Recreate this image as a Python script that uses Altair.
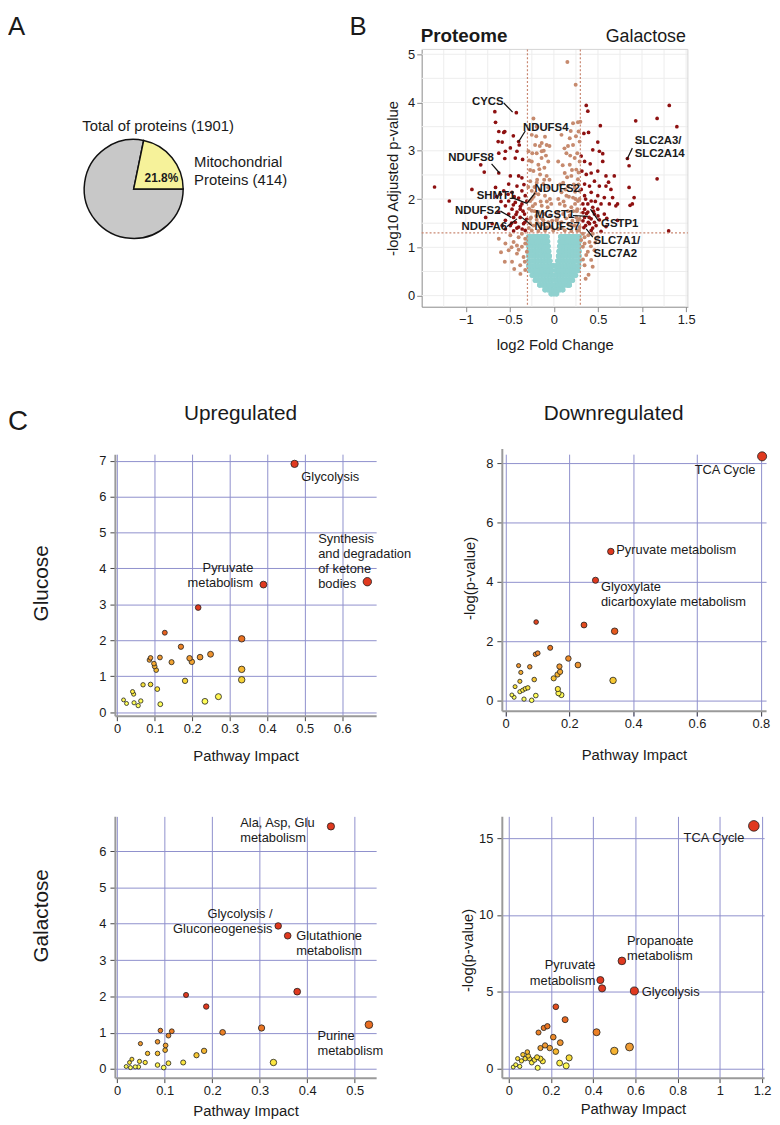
import altair as alt
import pandas as pd

FONT = "Liberation Sans"
TXT = "#1a1a1a"
GRID = "#8f90cc"
HEAT = ["#ffffff", "#f7e23b", "#ef9a33", "#e0391f"]

# ---------------- Panel A : protein counts ----------------
pie_parts = ["Other proteins", "Mitochondrial proteins"]
pie_counts = [1487, 414]
pie_colors = ["#c8c8c8", "#f6f29a"]

# ---------------- Panel B : volcano (log2 FC, -log10 adj. p) ----------------
volc_red = [
    (-1.354, 2.25), (-1.186, 1.96), (-0.93, 2.2), (-0.83, 2.71), (-0.79, 2.56), (-0.67, 3.81),
    (-0.426, 3.79), (-0.662, 3.59), (-0.625, 3.40), (-0.569, 3.38), (-0.557, 3.4), (-0.632, 3.19),
    (-0.587, 3.18), (-0.46, 3.31), (-0.40, 3.19), (-0.393, 3.12), (-0.625, 2.95), (-0.55, 2.99),
    (-0.557, 2.84), (-0.438, 2.85), (-0.355, 2.82), (-0.625, 2.54), (-0.662, 2.24), (-0.494, 2.48),
    (-0.40, 2.48), (-0.363, 2.44), (-0.419, 2.27), (-0.513, 2.31), (-0.569, 2.17), (-0.606, 2.10),
    (-0.475, 2.14), (-0.363, 2.17), (-0.325, 2.07), (-0.513, 1.96), (-0.438, 1.93), (-0.363, 1.90),
    (-0.55, 1.86), (-0.475, 1.79), (-0.419, 1.73), (-0.382, 1.79), (-0.513, 1.69), (-0.457, 1.62),
    (-0.382, 1.62), (-0.55, 1.56), (-0.438, 1.52), (-0.344, 1.49), (-0.494, 1.45), (-0.40, 1.42),
    (-0.55, 1.38), (-0.325, 1.35), (-0.457, 1.34), (-0.625, 1.73), (-0.70, 1.49), (-0.587, 1.45),
    (-0.774, 1.62), (-0.419, 2.99), (-0.494, 3.06), (-0.307, 1.96), (-0.333, 1.69),
    (-0.40, 2.02), (-0.35, 1.75), (-0.46, 1.88), (-0.33, 1.52), (-0.42, 1.40),
    (-0.34, 2.30), (-0.45, 2.05), (-0.52, 2.10), (-0.36, 1.38), (-0.48, 1.50), (-0.38, 1.85),
    (-0.43, 1.68), (-0.31, 1.58), (-0.60, 1.95), (-0.65, 2.05),
    (0.367, 3.94), (0.385, 3.82), (0.527, 3.52), (0.34, 3.36), (0.393, 3.38), (0.498, 3.18),
    (0.441, 3.02), (0.516, 2.99), (0.554, 2.94), (0.31, 2.89), (0.348, 2.78), (0.412, 2.73),
    (0.554, 2.78), (0.318, 2.58), (0.367, 2.51), (0.423, 2.54), (0.498, 2.58), (0.591, 2.48),
    (0.685, 2.48), (0.46, 2.37), (0.348, 2.31), (0.404, 2.27), (0.516, 2.27), (0.591, 2.27),
    (0.647, 2.20), (0.423, 2.14), (0.348, 2.07), (0.498, 2.07), (0.572, 2.03), (0.423, 1.96),
    (0.329, 1.90), (0.385, 1.90), (0.535, 1.90), (0.629, 1.90), (0.703, 1.86), (0.441, 1.83),
    (0.348, 1.79), (0.498, 1.79), (0.385, 1.73), (0.46, 1.69), (0.572, 1.69), (0.348, 1.62),
    (0.423, 1.59), (0.516, 1.57), (0.404, 1.49), (0.479, 1.45), (0.591, 1.43), (0.34, 1.41),
    (0.423, 1.35), (0.535, 1.33), (0.834, 2.84), (0.853, 2.69), (0.928, 3.62), (1.171, 3.67),
    (1.309, 3.94), (1.395, 3.50), (1.171, 2.42), (0.853, 2.24), (0.91, 2.03), (0.89, 1.90),
    (0.864, 1.87), (1.302, 1.34), (0.666, 2.03), (0.722, 1.90), (0.722, 1.56),
    (0.37, 1.70), (0.45, 1.75), (0.40, 1.62), (0.36, 1.45), (0.46, 1.52),
    (0.33, 1.55), (0.39, 1.52), (0.44, 1.40), (0.31, 2.20), (0.50, 1.65), (0.33, 1.72),
    (0.47, 1.95), (0.36, 2.00), (0.60, 1.60), (0.62, 2.35),
]
volc_tan = [
    (0.153, 4.84), (0.247, 4.37), (0.273, 3.59), (0.191, 3.41), (0.217, 3.57),
    (-0.232, 3.67), (-0.195, 3.50), (-0.251, 3.33), (-0.101, 3.29), (-0.082, 3.12), (-0.213, 3.12),
    (-0.138, 3.16), (-0.288, 2.99), (-0.195, 2.95), (-0.138, 2.99), (-0.251, 2.78), (-0.176, 2.71),
    (-0.108, 2.65), (-0.064, 2.78), (-0.232, 2.58), (-0.157, 2.51), (-0.082, 2.48), (-0.269, 2.37),
    (-0.195, 2.34), (-0.12, 2.31), (-0.064, 2.24), (-0.251, 2.17), (-0.176, 2.10), (-0.101, 2.07),
    (-0.045, 2.0), (-0.269, 1.96), (-0.213, 1.90), (-0.138, 1.86), (-0.071, 1.83), (-0.251, 1.76),
    (-0.176, 1.73), (-0.108, 1.69), (-0.045, 1.66), (-0.269, 1.59), (-0.195, 1.57), (-0.12, 1.56),
    (-0.064, 1.52), (-0.232, 1.45), (-0.157, 1.43), (-0.082, 1.41), (-0.026, 1.42), (-0.251, 1.35),
    (-0.176, 1.34), (-0.007, 1.35), (-0.23, 2.05), (-0.15, 1.95), (-0.2, 1.65), (-0.12, 1.48),
    (-0.27, 1.5), (-0.22, 2.25), (-0.28, 1.8),
    (-0.285, 1.40), (-0.26, 1.62), (-0.24, 1.85), (-0.21, 2.12), (-0.19, 2.40), (-0.165, 2.62),
    (-0.14, 2.85), (-0.115, 3.0), (-0.29, 2.25), (-0.27, 2.6), (-0.245, 2.95), (-0.2, 3.3),
    (-0.16, 3.1), (-0.09, 2.9), (-0.05, 2.4), (-0.03, 1.9), (-0.02, 1.55), (-0.1, 1.35),
    (-0.14, 1.6), (-0.16, 2.2), (-0.18, 1.5), (-0.22, 1.75), (-0.25, 2.0), (-0.28, 2.8),
    (-0.05, 3.1), (-0.08, 1.95), (-0.11, 2.4),
    (0.049, 2.78), (0.086, 3.33), (0.18, 3.26), (0.217, 3.12), (0.292, 3.19), (0.142, 2.95),
    (0.236, 2.85), (0.292, 2.78), (0.18, 2.71), (0.254, 2.61), (0.123, 2.54), (0.198, 2.48),
    (0.273, 2.41), (0.105, 2.34), (0.161, 2.27), (0.236, 2.24), (0.292, 2.17), (0.086, 2.14),
    (0.142, 2.07), (0.217, 2.03), (0.273, 1.96), (0.067, 1.90), (0.123, 1.86), (0.198, 1.83),
    (0.266, 1.79), (0.049, 1.73), (0.105, 1.69), (0.18, 1.66), (0.254, 1.62), (0.29, 1.59),
    (0.03, 1.56), (0.086, 1.52), (0.161, 1.49), (0.236, 1.45), (0.292, 1.42), (0.049, 1.38),
    (0.123, 1.35), (0.198, 1.34), (0.266, 1.35), (0.24, 1.9), (0.16, 1.75), (0.28, 2.3),
    (0.21, 1.55), (0.13, 2.2),
    (0.285, 1.35), (0.27, 1.55), (0.26, 1.75), (0.245, 2.0), (0.225, 2.3), (0.205, 2.6),
    (0.185, 2.9), (0.16, 3.1), (0.29, 2.0), (0.28, 2.55), (0.265, 2.95), (0.25, 3.3),
    (0.12, 3.05), (0.1, 2.7), (0.07, 2.3), (0.05, 2.0), (0.04, 1.6), (0.09, 1.4),
    (0.14, 1.6), (0.17, 2.05), (0.2, 1.45), (0.22, 1.75), (0.24, 2.15), (0.06, 1.5),
    (0.15, 2.45), (0.11, 1.95), (0.28, 3.4), (0.3, 3.6),
    (-0.40, 1.21), (-0.457, 1.11), (-0.363, 1.01), (-0.513, 0.94), (-0.419, 0.87), (-0.344, 0.80),
    (-0.475, 0.70), (-0.557, 0.70), (-0.382, 0.63), (-0.325, 0.53), (-0.55, 1.08), (-0.625, 1.18),
    (-0.325, 1.18), (-0.363, 1.28), (-0.494, 1.25), (-0.307, 0.91), (-0.419, 1.04), (-0.325, 1.08),
    (-0.45, 0.55), (-0.38, 0.45), (-0.60, 0.90), (-0.48, 1.00), (-0.33, 0.70), (-0.40, 0.95),
    (0.348, 1.21), (0.404, 1.11), (0.329, 1.01), (0.46, 0.94), (0.367, 0.84), (0.423, 0.74),
    (0.348, 0.63), (0.393, 0.43), (0.498, 1.21), (0.441, 1.28), (0.348, 1.08), (0.329, 1.28),
    (0.385, 0.91), (0.31, 1.15),
    (0.44, 0.60), (0.36, 0.35), (0.42, 1.02), (0.33, 0.75), (0.47, 1.10), (0.39, 1.25),
]
cyan_rows_y = [0.04, 0.12, 0.22, 0.32, 0.42, 0.52, 0.62, 0.72, 0.82, 0.92, 1.02, 1.12, 1.22]
cyan_rows_x = [
    [-0.03, 0.0, 0.03],
    [-0.1, -0.065, -0.03, 0.0, 0.03, 0.065, 0.1],
    [-0.16, -0.125, -0.09, -0.055, -0.02, 0.015, 0.05, 0.085, 0.12, 0.155, 0.175],
    [-0.21, -0.175, -0.14, -0.105, -0.07, -0.035, 0.0, 0.035, 0.07, 0.105, 0.14, 0.175, 0.21],
    [-0.245, -0.21, -0.175, -0.14, -0.105, -0.07, -0.035, 0.0, 0.035, 0.07, 0.105, 0.14, 0.175, 0.21, 0.245],
    [-0.27, -0.235, -0.2, -0.165, -0.13, -0.095, -0.06, -0.025, 0.025, 0.06, 0.095, 0.13, 0.165, 0.2, 0.235, 0.27],
    [-0.285, -0.25, -0.215, -0.18, -0.145, -0.11, -0.075, -0.04, -0.005, 0.03, 0.065, 0.1, 0.135, 0.17, 0.205, 0.24, 0.28],
    [-0.285, -0.25, -0.215, -0.18, -0.145, -0.11, -0.075, -0.045, 0.045, 0.075, 0.11, 0.145, 0.18, 0.215, 0.25, 0.285],
    [-0.285, -0.25, -0.215, -0.18, -0.145, -0.11, -0.08, -0.053, 0.053, 0.08, 0.11, 0.145, 0.18, 0.215, 0.25, 0.285],
    [-0.285, -0.25, -0.215, -0.18, -0.145, -0.115, -0.088, -0.06, 0.06, 0.088, 0.115, 0.145, 0.18, 0.215, 0.25, 0.285],
    [-0.285, -0.25, -0.215, -0.18, -0.15, -0.12, -0.093, -0.066, 0.066, 0.093, 0.12, 0.15, 0.18, 0.215, 0.25, 0.285],
    [-0.285, -0.25, -0.215, -0.185, -0.155, -0.126, -0.099, -0.072, 0.072, 0.099, 0.126, 0.155, 0.185, 0.215, 0.25, 0.285],
    [-0.285, -0.25, -0.218, -0.188, -0.16, -0.132, -0.105, -0.078, 0.078, 0.105, 0.132, 0.16, 0.188, 0.218, 0.25, 0.285],
]
fc_cuts = [-0.3, 0.3]
p_cut = [1.3]
volc_xlim = [-1.5, 1.52]
volc_ylim = [-0.23, 5.1]
volc_xticks = [-1, -0.5, 0, 0.5, 1, 1.5]
volc_yticks = [0, 1, 2, 3, 4, 5]
volc_xgrid = [-1.25, -1, -0.75, -0.5, -0.25, 0, 0.25, 0.5, 0.75, 1, 1.25, 1.5]
volc_ygrid = [0, 0.5, 1, 1.5, 2, 2.5, 3, 3.5, 4, 4.5, 5]
volc_labels = [
    (["CYCS"], -0.57, 4.01, "right"),
    (["NDUFS4"], -0.351, 3.48, "left"),
    (["NDUFS8"], -0.681, 2.84, "right"),
    (["SHMT1"], -0.438, 2.07, "right"),
    (["NDUFS2"], -0.221, 2.20, "left"),
    (["NDUFS2"], -0.606, 1.76, "right"),
    (["NDUFA6"], -0.531, 1.43, "right"),
    (["MGST1"], -0.213, 1.67, "left"),
    (["NDUFS7"], -0.221, 1.43, "left"),
    (["GSTP1"], 0.535, 1.49, "left"),
    (["SLC7A1/", "SLC7A2"], 0.449, 1.13, "left"),
    (["SLC2A3/", "SLC2A14"], 0.917, 3.20, "left"),
]
volc_leaders = [
    (-0.569, 3.99, -0.468, 3.80), (-0.325, 3.41, -0.40, 3.19), (-0.707, 2.73, -0.617, 2.54),
    (-0.475, 2.03, -0.306, 1.91), (-0.213, 2.13, -0.306, 1.91), (-0.606, 1.75, -0.483, 1.62),
    (-0.531, 1.43, -0.419, 1.59), (0.217, 1.66, 0.385, 1.64), (-0.25, 1.45, -0.363, 1.62),
    (0.505, 1.55, 0.415, 1.79), (0.441, 1.21, 0.367, 1.38), (0.89, 3.055, 0.827, 2.816),
]

# ---------------- Panel C : pathway impact vs -log(p) ----------------
glc_up_pts = [
    (0.473, 6.91), (0.667, 3.63), (0.39, 3.55), (0.216, 2.91), (0.127, 2.21), (0.332, 2.04),
    (0.17, 1.82), (0.249, 1.61), (0.221, 1.53), (0.193, 1.50), (0.199, 1.40), (0.145, 1.39),
    (0.114, 1.52), (0.089, 1.51), (0.086, 1.45), (0.098, 1.35), (0.100, 1.27), (0.104, 1.17),
    (0.332, 1.19), (0.332, 0.90), (0.181, 0.87), (0.069, 0.76), (0.089, 0.77), (0.107, 0.64),
    (0.041, 0.57), (0.044, 0.50), (0.017, 0.34), (0.025, 0.24), (0.045, 0.26), (0.056, 0.18),
    (0.063, 0.31), (0.115, 0.22), (0.234, 0.30), (0.270, 0.43),
]
glc_up_labels = [
    (["Glycolysis"], 0.491, 6.55, "left"),
    (["Pyruvate", "metabolism"], 0.363, 4.01, "right"),
    (["Synthesis", "and degradation", "of ketone", "bodies"], 0.536, 4.82, "left"),
]
glc_dn_pts = [
    (0.804, 8.24), (0.33, 5.03), (0.282, 4.06), (0.096, 2.65), (0.246, 2.55), (0.342, 2.34),
    (0.14, 1.78), (0.094, 1.56), (0.101, 1.60), (0.197, 1.42), (0.227, 1.20), (0.169, 1.15),
    (0.171, 0.97), (0.163, 0.88), (0.151, 0.75), (0.041, 1.18), (0.076, 1.14), (0.048, 0.95),
    (0.09, 0.71), (0.045, 0.65), (0.03, 0.47), (0.045, 0.30), (0.054, 0.35), (0.062, 0.40),
    (0.07, 0.43), (0.02, 0.19), (0.027, 0.11), (0.058, 0.05), (0.082, 0.01), (0.095, 0.17),
    (0.164, 0.39), (0.166, 0.25), (0.175, 0.19), (0.337, 0.68),
]
glc_dn_labels = [
    (["TCA Cycle"], 0.783, 7.79, "right"),
    (["Pyruvate metabolism"], 0.347, 5.07, "left"),
    (["Glyoxylate", "dicarboxylate metabolism"], 0.299, 3.84, "left"),
]
gal_up_pts = [
    (0.45, 6.68), (0.339, 3.94), (0.359, 3.67), (0.379, 2.13), (0.53, 1.22), (0.145, 2.04),
    (0.1875, 1.72), (0.222, 1.01), (0.304, 1.13), (0.091, 1.06), (0.115, 1.04), (0.108, 0.92),
    (0.085, 0.75), (0.102, 0.65), (0.049, 0.70), (0.101, 0.52), (0.085, 0.43), (0.064, 0.43),
    (0.183, 0.50), (0.167, 0.38), (0.329, 0.18), (0.139, 0.18), (0.108, 0.16), (0.085, 0.11),
    (0.098, 0.04), (0.059, 0.18), (0.047, 0.21), (0.045, 0.06), (0.031, 0.27), (0.026, 0.18),
    (0.019, 0.07), (0.028, 0.04), (0.038, 0.06),
]
gal_up_labels = [
    (["Ala, Asp, Glu", "metabolism"], 0.259, 6.77, "left"),
    (["Glycolysis /", "Gluconeogenesis"], 0.327, 4.27, "right"),
    (["Glutathione", "metabolism"], 0.377, 3.66, "left"),
    (["Purine", "metabolism"], 0.4216, 0.91, "left"),
]
gal_dn_pts = [
    (1.161, 15.8), (0.536, 7.0), (0.434, 5.75), (0.442, 5.21), (0.595, 5.04), (0.223, 4.01),
    (0.267, 3.17), (0.416, 2.35), (0.141, 2.33), (0.166, 2.63), (0.183, 2.74), (0.211, 2.03),
    (0.244, 1.67), (0.172, 1.49), (0.15, 1.32), (0.194, 1.32), (0.223, 1.09), (0.5, 1.13),
    (0.572, 1.39), (0.286, 0.68), (0.241, 0.34), (0.272, 0.16), (0.161, 0.46), (0.134, 0.72),
    (0.109, 0.37), (0.088, 1.06), (0.092, 0.81), (0.067, 0.89), (0.078, 0.63), (0.06, 0.48),
    (0.042, 0.63), (0.033, 0.23), (0.021, 0.08), (0.052, 0.12), (0.137, 0.03), (0.098, 0.63),
    (0.15, 0.63), (0.122, 0.55),
]
gal_dn_labels = [
    (["TCA Cycle"], 1.116, 15.0, "right"),
    (["Propanoate", "metabolism"], 0.56, 8.29, "left"),
    (["Pyruvate", "metabolism"], 0.411, 6.70, "right"),
    (["Glycolysis"], 0.63, 5.0, "left"),
]


# ---------------- helpers ----------------
def note(text, x, y, size=15, weight="normal", align="left", baseline="middle", line_height=None):
    kw = dict(text=text, fontSize=size, fontWeight=weight, align=align, baseline=baseline,
              color=TXT, font=FONT)
    if line_height:
        kw["lineHeight"] = line_height
    return alt.Chart(alt.Data(values=[{}])).mark_text(**kw).encode(x=alt.value(x), y=alt.value(y))


def label_layers(labels, xsc, ysc, size, weight, lh):
    vals = [{"t": t, "x": x, "y": y, "side": s} for (t, x, y, s) in labels]
    data = alt.Data(values=vals)
    out = []
    for side in ("left", "right"):
        out.append(
            alt.Chart(data).transform_filter(alt.datum.side == side)
            .mark_text(align=side, baseline="middle", fontSize=size, fontWeight=weight,
                       lineHeight=lh, color=TXT, font=FONT)
            .encode(x=alt.X("x:Q", scale=xsc), y=alt.Y("y:Q", scale=ysc), text=alt.Text("t:N"))
        )
    return out


# ---------------- Panel A ----------------
pie_df = pd.DataFrame({"part": pie_parts, "count": pie_counts, "k": list(range(len(pie_parts)))})
total = sum(pie_counts)
pct = 100.0 * pie_counts[1] / total
pie_arc = alt.Chart(pie_df).mark_arc(outerRadius=50, stroke="#111", strokeWidth=1.5).encode(
    theta=alt.Theta("count:Q", stack=True, scale=alt.Scale(range=[1.5708, 1.5708 + 6.28319])),
    color=alt.Color("part:N", scale=alt.Scale(domain=pie_parts, range=pie_colors), legend=None),
    order=alt.Order("k:Q"),
    x=alt.value(19), y=alt.value(141),
)
pie = alt.layer(
    pie_arc,
    note(f"Total of proteins ({total})", -33, 77, size=15),
    note(["Mitochondrial", f"Proteins ({pie_counts[1]})"], 80, 114, size=15, line_height=17.8),
    note(f"{pct:.1f}%", 47, 130, size=12, weight="bold", align="center"),
    note("A", -108, -36, size=26, baseline="top"),
).properties(width=183, height=307.7)

# ---------------- Panel B ----------------
# the volcano cell sits in column 2; its x range is shifted left to the figure's position
vx = alt.Scale(domain=volc_xlim, nice=False, zero=False, range=[-81, 188])
vy = alt.Scale(domain=volc_ylim, nice=False, zero=False)
vaxis_common = dict(labelFontSize=13, labelColor=TXT, titleColor=TXT, titleFontSize=15,
                    titleFontWeight="normal", grid=False, domainColor="#8a8a8a", tickColor="#8a8a8a",
                    tickSize=5, labelFlush=False, labelOverlap=False)
vaxis_x = alt.Axis(values=volc_xticks, tickCount=len(volc_xticks), format="~g", title="log2 Fold Change",
                   titleX=53.5, titleY=38, titleBaseline="middle", **vaxis_common)
vaxis_y = alt.Axis(values=volc_yticks, tickCount=len(volc_yticks), format="d", title="-log10 Adjusted p-value",
                   titleX=-29, titleY=130, titleBaseline="middle", titleAngle=-90, offset=81, **vaxis_common)

cyan_pts = [(x, y) for y, row in zip(cyan_rows_y, cyan_rows_x) for x in row]

frame_df = pd.DataFrame({"x": [volc_xlim[0], volc_xlim[1]], "x2": [volc_xlim[1], volc_xlim[1]],
                         "y": [volc_ylim[1], volc_ylim[0]], "y2": [volc_ylim[1], volc_ylim[1]]})
vgrid_x = alt.Chart(pd.DataFrame({"x": volc_xgrid})).mark_rule(color="#ededed", strokeWidth=1).encode(
    x=alt.X("x:Q", scale=vx))
vgrid_y = alt.Chart(pd.DataFrame({"y": volc_ygrid, "x": volc_xlim[0], "x2": volc_xlim[1]})).mark_rule(
    color="#ededed", strokeWidth=1).encode(y=alt.Y("y:Q", scale=vy), x=alt.X("x:Q", scale=vx), x2="x2:Q")
frame = alt.Chart(frame_df).mark_rule(color="#d4d4d4", strokeWidth=1).encode(
    x=alt.X("x:Q", scale=vx), x2="x2:Q", y=alt.Y("y:Q", scale=vy), y2="y2:Q")


def volc_points(pts, color, size, axes=False):
    enc_x = alt.X("x:Q", scale=vx, axis=vaxis_x) if axes else alt.X("x:Q", scale=vx)
    enc_y = alt.Y("y:Q", scale=vy, axis=vaxis_y) if axes else alt.Y("y:Q", scale=vy)
    return alt.Chart(pd.DataFrame(pts, columns=["x", "y"])).mark_circle(
        color=color, size=size, opacity=1).encode(x=enc_x, y=enc_y)


cut_v = alt.Chart(pd.DataFrame({"x": fc_cuts})).mark_rule(
    color="#c98872", strokeDash=[2, 2], strokeWidth=1.2).encode(x=alt.X("x:Q", scale=vx))
cut_h = alt.Chart(pd.DataFrame({"y": p_cut, "x": volc_xlim[0], "x2": volc_xlim[1]})).mark_rule(
    color="#c98872", strokeDash=[2, 2], strokeWidth=1.2).encode(
    y=alt.Y("y:Q", scale=vy), x=alt.X("x:Q", scale=vx), x2="x2:Q")
lead = alt.Chart(pd.DataFrame(volc_leaders, columns=["x", "y", "x2", "y2"])).mark_rule(
    color="#111", strokeWidth=1.2).encode(
    x=alt.X("x:Q", scale=vx), y=alt.Y("y:Q", scale=vy), x2="x2:Q", y2="y2:Q")

volc = alt.layer(
    volc_points(cyan_pts, "#8fd1cf", 30, axes=True),
    vgrid_x, vgrid_y, frame,
    volc_points(cyan_pts, "#8fd1cf", 30),
    volc_points(volc_tan, "#c68a6e", 16),
    volc_points(volc_red, "#8e1111", 14),
    cut_v, cut_h, lead,
    *label_layers(volc_labels, vx, vy, 11.5, "bold", 13.5),
    note("Proteome", -82, -7, size=19, weight="bold", baseline="alphabetic"),
    note("Galactose", 186, -7, size=18, align="right", baseline="alphabetic"),
    note("B", -154, -36, size=26, baseline="top"),
).properties(width=188, height=260)


# ---------------- Panel C ----------------
def pathway_panel(pts, labels, xdom, ydom, xticks, yticks, w, h, cdom, sdom, srange,
                  ytitle, ytx, yty, ytsize, xty, yrange=None, extra=()):
    xsc = alt.Scale(domain=xdom, nice=False, zero=False)
    if yrange:
        ysc = alt.Scale(domain=ydom, nice=False, zero=False, range=yrange)
    else:
        ysc = alt.Scale(domain=ydom, nice=False, zero=False)
    common = dict(labelFontSize=13, labelColor=TXT, titleColor=TXT, titleFontWeight="normal",
                  domainColor="#9a9a9a", domainWidth=2, tickColor="#444", tickSize=5,
                  grid=True, gridColor=GRID, gridWidth=1, labelFlush=False, labelOverlap=False)
    xa = alt.Axis(values=xticks, tickCount=len(xticks), format=".1~f", title="Pathway Impact",
                  titleFontSize=15, titleY=xty, titleBaseline="middle", **common)
    ya = alt.Axis(values=yticks, tickCount=len(yticks), format="d", title=ytitle, titleFontSize=ytsize,
                  titleX=ytx, titleY=yty, titleAngle=-90, titleBaseline="middle", titleAlign="center",
                  labelPadding=4, **common)
    df = pd.DataFrame(pts, columns=["x", "y"])
    dots = alt.Chart(df).mark_circle(opacity=1, stroke="#1e1e1e", strokeWidth=0.8).encode(
        x=alt.X("x:Q", scale=xsc, axis=xa),
        y=alt.Y("y:Q", scale=ysc, axis=ya),
        color=alt.Color("y:Q", scale=alt.Scale(domain=cdom, range=HEAT, clamp=True), legend=None),
        size=alt.Size("x:Q", scale=alt.Scale(domain=sdom, range=srange, zero=False), legend=None),
        order=alt.Order("y:Q"),
    )
    return alt.layer(dots, *label_layers(labels, xsc, ysc, 13, "normal", 15.3), *extra).properties(
        width=w, height=h)


glc_up = pathway_panel(glc_up_pts, glc_up_labels, [-0.0061, 0.6905], [-0.101, 7.18],
                       [0, 0.1, 0.2, 0.3, 0.4, 0.5, 0.6], [0, 1, 2, 3, 4, 5, 6, 7], 264, 264.3,
                       [0.25, 0.75, 1.5, 2.6], [0, 0.67], [14, 115],
                       "Glucose", -74, 130, 21, 40,
                       extra=(note("C", -108, -46.7, size=28, baseline="top"),
                              note("Upregulated", 127, -40.7, size=21, align="center")))
glc_dn = pathway_panel(glc_dn_pts, glc_dn_labels, [-0.0115, 0.8164], [-0.344, 8.504],
                       [0, 0.2, 0.4, 0.6, 0.8], [0, 2, 4, 6, 8], 267, 259.3,
                       [0.15, 0.45, 1.1, 2.8], [0, 0.8], [13, 105],
                       "-log(p-value)", -33, 125, 15, 44, yrange=[259.3, -5.7],
                       extra=(note("Downregulated", 113, -40.7, size=21, align="center"),))
gal_up = pathway_panel(gal_up_pts, gal_up_labels, [-0.0048, 0.5452], [-0.237, 6.956],
                       [0, 0.1, 0.2, 0.3, 0.4, 0.5], [0, 1, 2, 3, 4, 5, 6], 264, 264,
                       [0.05, 0.2, 0.7, 1.7], [0, 0.53], [12, 135],
                       "Galactose", -74, 100, 21, 33)
gal_dn = pathway_panel(gal_dn_pts, gal_dn_labels, [-0.0328, 1.2095], [-0.61, 16.42],
                       [0, 0.2, 0.4, 0.6, 0.8, 1.0, 1.2], [0, 5, 10, 15], 265, 264,
                       [0.1, 0.6, 1.4, 4.5], [0, 1.16], [10, 90],
                       "-log(p-value)", -35, 135, 15, 31)

chart = alt.concat(
    pie, volc, glc_up, glc_dn, gal_up, gal_dn,
    columns=2, spacing={"row": 101, "column": 127}, bounds="flush",
).properties(padding=0).configure(font=FONT).configure_view(stroke=None)

chart.save("out.html", embed_options={"renderer": "svg", "actions": False})
